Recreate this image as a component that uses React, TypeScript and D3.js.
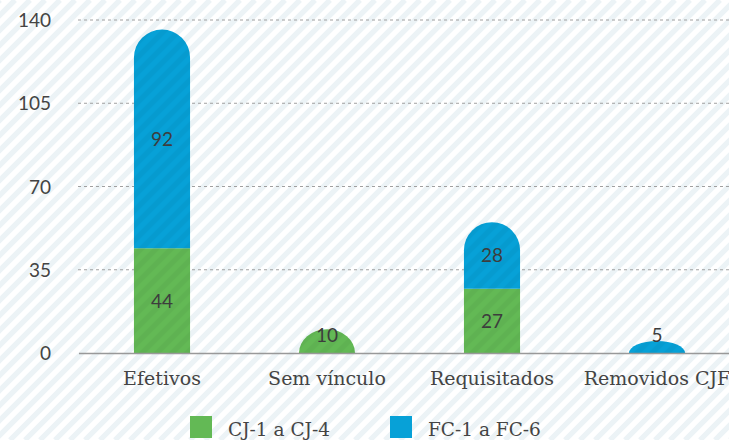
import React from "react";
import * as d3 from "d3";

const categories = ["Efetivos", "Sem vínculo", "Requisitados", "Removidos CJF"];
const cjValues = [44, 10, 27, 0];
const fcValues = [92, 0, 28, 5];
const seriesNames = ["CJ-1 a CJ-4", "FC-1 a FC-6"];
const yTicks = [0, 35, 70, 105, 140];

const colors = ["#63b955", "#07a1d7"];
const W = 729;
const H = 440;
const STRIPE = 15; // horizontal period of the background stripes

// rounded top only on the upper segment, like the original
const barPath = (x: number, y0: number, y1: number, w: number, round: boolean) => {
  const h = y0 - y1;
  if (!round) return `M${x},${y0}V${y1}H${x + w}V${y0}Z`;
  const rx = w / 2;
  const ry = Math.min(rx, h);
  return `M${x},${y0}V${y1 + ry}A${rx},${ry} 0 0 1 ${x + w},${y1 + ry}V${y0}Z`;
};

const App = () => {
  const x = d3.scaleBand().domain(categories).range([79.5, 739.5]).paddingInner(0.66).paddingOuter(0.33);
  const y = d3.scaleLinear().domain([0, 140]).range([353, 20]);
  const bw = x.bandwidth();

  const stacked = d3
    .stack<any>()
    .keys(["cj", "fc"])(categories.map((c, i) => ({ cat: c, cj: cjValues[i], fc: fcValues[i] })));

  const stripes = d3.range(-H, W + STRIPE, STRIPE);
  const sw = STRIPE / Math.SQRT2 / 2;

  const bars: { p: string; li: number; key: string }[] = [];
  stacked.forEach((layer, li) =>
    layer.forEach((d, i) => {
      if (d[1] - d[0] <= 0) return;
      const isTop = stacked.slice(li + 1).every((l) => l[i][1] - l[i][0] <= 0);
      bars.push({ p: barPath(x(categories[i])!, y(d[0]), y(d[1]), bw, isTop), li, key: `${li}-${i}` });
    })
  );

  return (
    <svg width={W} height={H} style={{ position: "absolute", left: 0, top: 0 }}>
      <defs>
        <clipPath id="barclip">
          {bars.map((b) => (
            <path key={b.key} d={b.p} />
          ))}
        </clipPath>
      </defs>
      <rect width={W} height={H} fill="#fff" />
      <g stroke="#ecf3f6" strokeWidth={sw}>
        {stripes.map((s) => (
          <line key={s} x1={s} y1={H} x2={s + H} y2={0} />
        ))}
      </g>

      {yTicks.slice(1).map((t) => (
        <line key={t} x1={78} x2={W} y1={y(t)} y2={y(t)} stroke="#a0a0a0" strokeDasharray="3,3" strokeWidth={1} />
      ))}
      {yTicks.map((t) => (
        <text key={t} x={51} y={y(t) + 7} textAnchor="end" fontFamily="Lato" fontSize={19} fill="#444">
          {t}
        </text>
      ))}

      {bars.map((b) => (
        <path key={b.key} d={b.p} fill={colors[b.li]} />
      ))}
      <g clipPath="url(#barclip)" stroke="rgba(0,0,0,0.035)" strokeWidth={sw}>
        {stripes.map((s) => (
          <line key={s} x1={s} y1={H} x2={s + H} y2={0} />
        ))}
      </g>

      <line x1={79} x2={W} y1={353.5} y2={353.5} stroke="#999" strokeWidth={1.5} />

      {stacked.map((layer, li) =>
        layer.map((d, i) => {
          const v = d[1] - d[0];
          if (v <= 0) return null;
          const cy = Math.min((y(d[0]) + y(d[1])) / 2, 335);
          return (
            <text
              key={`l${li}-${i}`}
              x={x(categories[i])! + bw / 2}
              y={cy + 7}
              textAnchor="middle"
              fontFamily="Lato"
              fontSize={19}
              fill="#3d3d3d"
            >
              {v}
            </text>
          );
        })
      )}

      {categories.map((c) => (
        <text key={c} x={x(c)! + bw / 2} y={385} textAnchor="middle" fontFamily="DejaVu Serif" fontSize={19} fill="#444">
          {c}
        </text>
      ))}

      {seriesNames.map((s, i) => (
        <g key={s} transform={`translate(${190 + i * 200},416)`}>
          <rect width={22} height={22} fill={colors[i]} />
          <text x={38} y={20} fontFamily="DejaVu Serif" fontSize={18.5} fill="#444">
            {s}
          </text>
        </g>
      ))}
    </svg>
  );
};

export default App;
